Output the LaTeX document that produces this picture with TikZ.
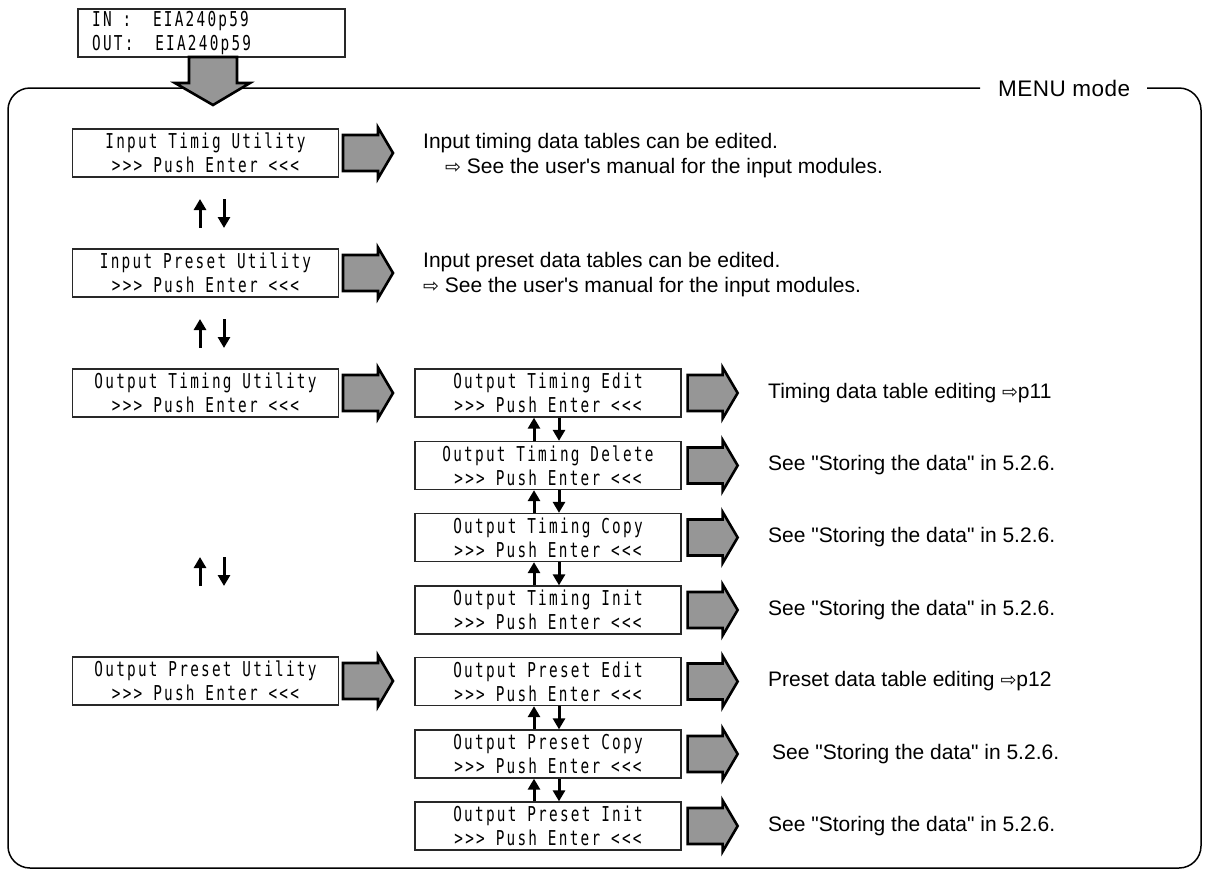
\documentclass[tikz,border=0pt]{standalone}
\usepackage{fontspec}
\setmainfont{Liberation Sans}
\newfontfamily\lcd[FakeStretch=0.7,LetterSpace=11]{DejaVu Sans Mono}
\newfontfamily\symfont{DejaVu Sans}
\usetikzlibrary{arrows.meta,calc}

\definecolor{arrowfill}{RGB}{150,150,150}
\definecolor{boxline}{RGB}{40,40,40}

% LCD-style display text and body text
\newcommand\lcdfont{\lcd\fontsize{20.5}{24}\selectfont}
\newcommand\notefont{\fontsize{21}{25}\selectfont}
\newcommand\goto{{\symfont\fontsize{19}{19}\selectfont ⇨}}
\newcommand\dq{\textquotedbl}

\tikzset{
  lcdbox/.style={draw=boxline, line width=1.3, minimum width=266, minimum height=48,
                 inner sep=0, align=center, font=\lcdfont},
  note/.style={anchor=west, inner sep=0, font=\notefont},
  updown/.style={line width=3, -{Triangle[length=11pt,width=12pt]}},
  pics/fatarrow/.style={code={
    \draw[fill=arrowfill, line width=2.6, line join=miter]
      (0,-18) -- (35,-18) -- (35,-25.5) -- (50,0) -- (35,25.5) -- (35,18) -- (0,18) -- cycle;}}
}

\begin{document}
\begin{tikzpicture}[x=1pt,y=-1pt]
\useasboundingbox (0,0) rectangle (1205,871);

% MENU mode frame, open where its title sits
\draw[line width=1.5, rounded corners=22]
  (980,88) -- (8,88) -- (8,868) -- (1201,868) -- (1201,88) -- (1147,88);
\node[anchor=west, inner sep=0, font=\fontsize{22.5}{26}\selectfont\addfontfeature{LetterSpace=2}] (menu) at (998,88) {MENU mode};

% current status display
\node[draw=boxline, line width=1.3, minimum width=267, minimum height=48, inner sep=0]
  (status) at (211.5,33) {};
\node[anchor=west, inner sep=0, font=\lcdfont] (stin) at (92,21) {IN :\ \ EIA240p59};
\node[anchor=west, inner sep=0, font=\lcdfont] (stout) at (92,45) {OUT:\ \ EIA240p59};

% entry into the menu
\draw[fill=arrowfill, line width=2.6, line join=miter]
  (189,57) -- (237,57) -- (237,83) -- (250,83) -- (213,105) -- (175,83) -- (189,83) -- cycle;

% top-level menu items
\node[lcdbox] (L1) at (205.5,153) {Input Timig Utility\\>>> Push Enter <<<};
\node[lcdbox] (L2) at (205.5,273) {Input Preset Utility\\>>> Push Enter <<<};
\node[lcdbox] (L3) at (205.5,393) {Output Timing Utility\\>>> Push Enter <<<};
\node[lcdbox] (L4) at (205.5,681) {Output Preset Utility\\>>> Push Enter <<<};

% sub-menu items
\node[lcdbox] (M1) at (548,393) {Output Timing Edit\\>>> Push Enter <<<};
\node[lcdbox] (M2) at (548,465.5) {Output Timing Delete\\>>> Push Enter <<<};
\node[lcdbox] (M3) at (548,537.5) {Output Timing Copy\\>>> Push Enter <<<};
\node[lcdbox] (M4) at (548,610) {Output Timing Init\\>>> Push Enter <<<};
\node[lcdbox] (M5) at (548,681.5) {Output Preset Edit\\>>> Push Enter <<<};
\node[lcdbox] (M6) at (548,754) {Output Preset Copy\\>>> Push Enter <<<};
\node[lcdbox] (M7) at (548,826) {Output Preset Init\\>>> Push Enter <<<};

% Enter arrows
\pic at (343,153) {fatarrow};
\pic at (343,273) {fatarrow};
\pic at (343,393) {fatarrow};
\pic at (343,681) {fatarrow};
\foreach \m in {M1,M2,M3,M4,M5,M6,M7}
  \pic at ($(\m.east)+(6,0)$) {fatarrow};

% up/down keys between top-level items
\coordinate (ka1) at (200,228); \coordinate (kb1) at (200,199);
\coordinate (kc1) at (224,199); \coordinate (kd1) at (224,228);
\coordinate (ka2) at (200,348); \coordinate (kb2) at (200,319);
\coordinate (kc2) at (224,319); \coordinate (kd2) at (224,348);
\coordinate (ka3) at (200,586); \coordinate (kb3) at (200,557);
\coordinate (kc3) at (224,557); \coordinate (kd3) at (224,586);
\foreach \i in {1,2,3} {
  \draw[updown] (ka\i) -- (kb\i);
  \draw[updown] (kc\i) -- (kd\i);
}

% up/down keys between sub-menu items
\foreach \a/\b in {M1/M2,M2/M3,M3/M4,M5/M6,M6/M7} {
  \draw[updown] ([xshift=-14]\b.north) -- ([xshift=-14]\a.south);
  \draw[updown] ([xshift=11]\a.south) -- ([xshift=11]\b.north);
}

% descriptions
\node[note] (d1a) at (423,143) {Input timing data tables can be edited.};
\node[note] (d1b) at (445,168) {\goto\ See the user\textquotesingle s manual for the input modules.};
\node[note] (d2a) at (423,262) {Input preset data tables can be edited.};
\node[note] (d2b) at (423,287) {\goto\ See the user\textquotesingle s manual for the input modules.};

\node[note] (r1) at (768,393) {Timing data table editing \goto p11};
\node[note] (r2) at (768,465.5) {See \dq Storing the data\dq\ in 5.2.6.};
\node[note] (r3) at (768,537.5) {See \dq Storing the data\dq\ in 5.2.6.};
\node[note] (r4) at (768,610) {See \dq Storing the data\dq\ in 5.2.6.};
\node[note] (r5) at (768,681.5) {Preset data table editing \goto p12};
\node[note] (r6) at (772,754) {See \dq Storing the data\dq\ in 5.2.6.};
\node[note] (r7) at (768,826) {See \dq Storing the data\dq\ in 5.2.6.};
\end{tikzpicture}
\end{document}
